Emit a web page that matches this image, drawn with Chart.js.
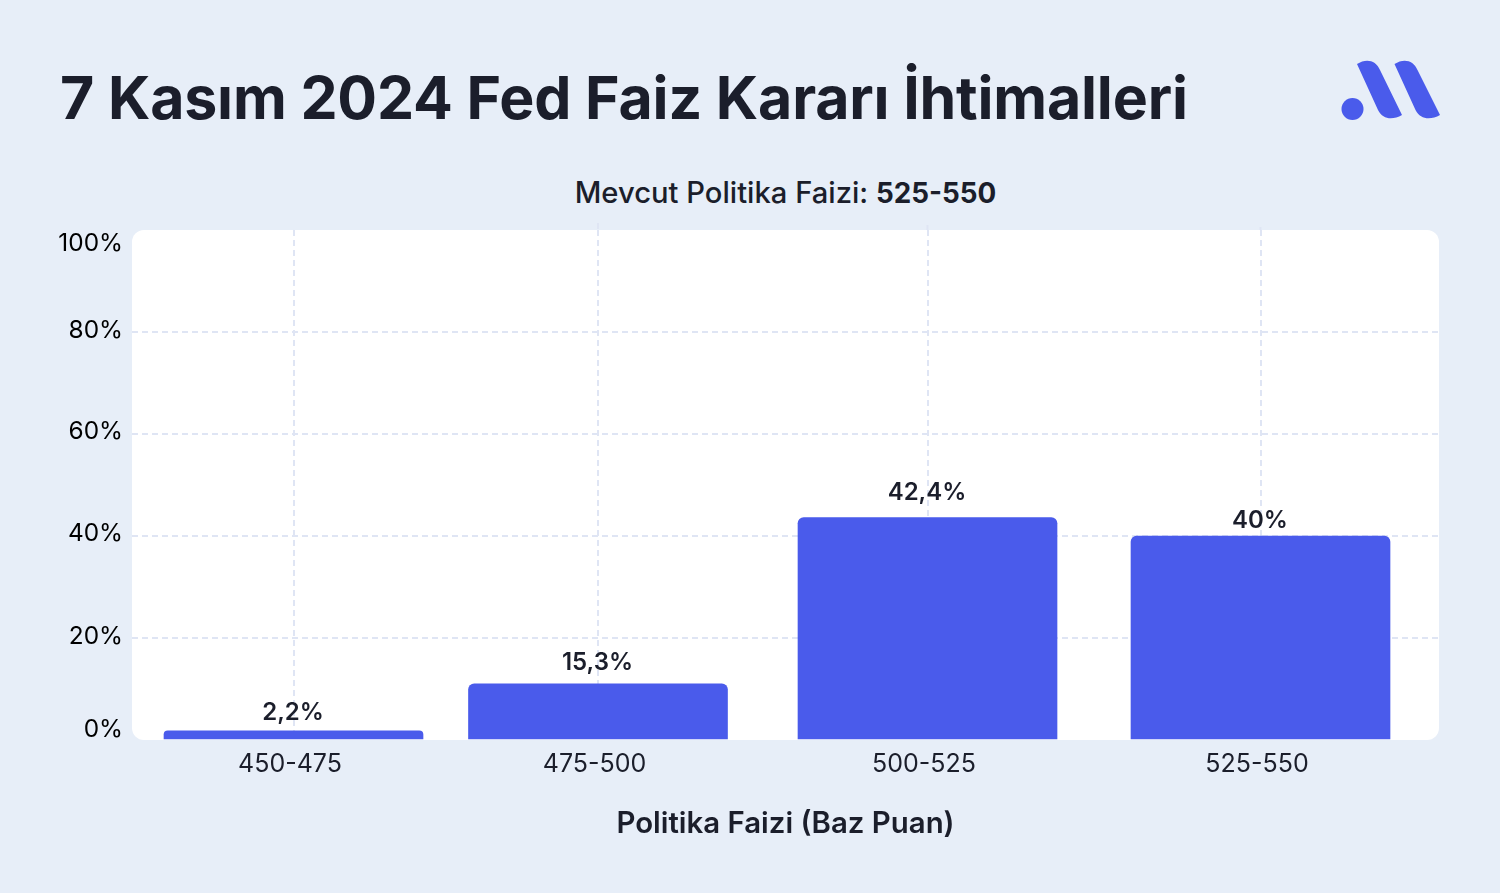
<!DOCTYPE html>
<html lang="tr">
<head>
<meta charset="utf-8">
<title>7 Kasım 2024 Fed Faiz Kararı İhtimalleri</title>
<script src="https://cdn.jsdelivr.net/npm/chart.js@4/dist/chart.umd.js"></script>
<style>
  html, body { margin: 0; padding: 0; background: #e7eef8; }
  body { width: 1500px; height: 893px; position: relative; overflow: hidden; font-family: Inter, sans-serif; color: #1b1e2b; }
  h1 { position: absolute; left: 60px; top: 60px; margin: 0; font-size: 59px; line-height: 76px; font-weight: 700; letter-spacing: -0.18px; white-space: nowrap; }
  #subtitle { position: absolute; left: 0; width: 1571px; top: 175px; text-align: center; font-size: 29.2px; line-height: 36px; font-weight: 500; white-space: nowrap; }
  #subtitle b { font-weight: 700; font-size: 27.8px; }
  #logo { position: absolute; left: 0; top: 0; }
  canvas { position: absolute; left: 0; top: 0; }
</style>
</head>
<body>
<h1>7 Kasım 2024 Fed Faiz Kararı İhtimalleri</h1>
<div id="subtitle">Mevcut Politika Faizi: <b>525-550</b></div>
<svg id="logo" width="1500" height="140" fill="#4a5beb">
  <circle cx="1352.5" cy="109" r="11"/>
  <path d="M1357 64 C1366 58 1376 60 1380 70 L1402 115 C1393 120 1383 120 1378 110 Z"/>
  <path d="M1394.5 64 C1403.5 58 1413.5 60 1417.5 70 L1440 115 C1431 120 1420.5 120 1415.5 110 Z"/>
</svg>
<canvas id="myChart" width="1500" height="893"></canvas>
<script>
const categories = ["450-475", "475-500", "500-525", "525-550"];
const barValues = [1.8, 11, 43.6, 40]; // bar heights as drawn
const barLabels = ["2,2%", "15,3%", "42,4%", "40%"]; // printed above the bars
const yTicks = [0, 20, 40, 60, 80, 100];

// layout, the reference does not space things evenly
const slotCentres = [0.12357, 0.35654, 0.60865, 0.86343];
const tickNudge = [-10, -1, -2, -2, -1, 14];
const labelGaps = [18, 21, 25, 15];
const gridOverhang = [0, 7, 5, 3];

const textColor = "#1b1e2b";
const gridColor = "#dfe5f4";

class SlottedCategory extends Chart.CategoryScale {
    static id = "slottedCategory";
    static defaults = Chart.CategoryScale.defaults;
    getPixelForValue(value) {
        return this.left + this.width * slotCentres[Math.round(value)];
    }
}

class NudgedLinear extends Chart.LinearScale {
    static id = "nudgedLinear";
    static defaults = Chart.LinearScale.defaults;
    _computeLabelItems(chartArea) {
        const items = super._computeLabelItems(chartArea);
        items.forEach((item, i) => {
            item.options.translation[1] += tickNudge[i];
        });
        return items;
    }
}

Chart.register(SlottedCategory, NudgedLinear);

const panelPlugin = {
    id: "panel",
    beforeDraw(chart) {
        const a = chart.chartArea;
        const c = chart.ctx;
        c.save();
        c.fillStyle = "#ffffff";
        c.beginPath();
        c.roundRect(a.left, a.top, a.right - a.left, a.bottom - a.top, 12);
        c.fill();
        // the vertical grid pokes out a little above the panel
        c.strokeStyle = gridColor;
        c.lineWidth = 2;
        c.setLineDash([6, 4]);
        chart.scales.x.ticks.forEach((t, i) => {
            const x = chart.scales.x.getPixelForTick(i);
            c.beginPath();
            c.moveTo(x, a.top - gridOverhang[i]);
            c.lineTo(x, a.top);
            c.stroke();
        });
        c.restore();
    },
};

const barLabelPlugin = {
    id: "barLabels",
    afterDatasetsDraw(chart) {
        const c = chart.ctx;
        c.save();
        c.fillStyle = textColor;
        c.font = "600 24px Inter";
        c.textAlign = "center";
        c.textBaseline = "middle";
        chart.getDatasetMeta(0).data.forEach((bar, i) => {
            c.fillText(barLabels[i], bar.x - 0.5, bar.y - labelGaps[i]);
        });
        c.restore();
    },
};

new Chart(document.getElementById("myChart"), {
    type: "bar",
    data: {
        labels: categories,
        datasets: [
            {
                data: barValues,
                backgroundColor: "#4a5beb",
                barThickness: 259,
                borderRadius: { topLeft: 6, topRight: 6, bottomLeft: 0, bottomRight: 0 },
                borderSkipped: false,
            },
        ],
    },
    options: {
        responsive: false,
        animation: false,
        layout: { padding: { top: 230, right: 61, left: 0, bottom: 0 } },
        plugins: { legend: { display: false }, tooltip: { enabled: false } },
        scales: {
            x: {
                type: "slottedCategory",
                offset: false,
                afterFit: (scale) => { scale.height = 153; },
                border: { display: false, dash: [6, 4] },
                grid: { offset: false, color: gridColor, lineWidth: 2, drawTicks: false },
                ticks: { color: textColor, font: { family: "Inter", size: 25 }, padding: 9, labelOffset: -3.5, autoSkip: false, maxRotation: 0 },
                title: {
                    display: true,
                    text: "Politika Faizi (Baz Puan)",
                    color: textColor,
                    font: { family: "Inter", size: 29.4, weight: "600" },
                    padding: { top: 0, bottom: 51 },
                },
            },
            y: {
                type: "nudgedLinear",
                min: 0,
                max: 100,
                afterFit: (scale) => { scale.width = 132; },
                afterBuildTicks: (scale) => { scale.ticks = yTicks.map((v) => ({ value: v })); },
                border: { display: false, dash: [6, 4] },
                grid: {
                    color: (ctx) => (ctx.tick.value === 0 || ctx.tick.value === 100 ? "transparent" : gridColor),
                    lineWidth: 2,
                    drawTicks: false,
                },
                ticks: { color: "#000000", font: { family: "Inter", size: 24.4 }, padding: 9, callback: (v) => v + "%" },
            },
        },
    },
    plugins: [panelPlugin, barLabelPlugin],
});
</script>
</body>
</html>
